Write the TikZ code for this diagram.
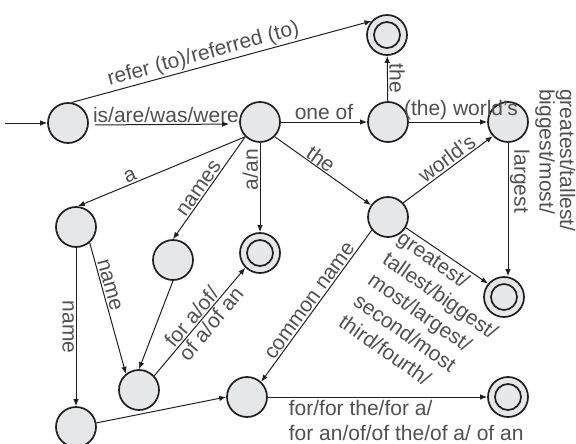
\documentclass[tikz,border=0pt]{standalone}
\usepackage{fontspec}
\setmainfont{Liberation Sans}
\usetikzlibrary{arrows.meta}
\definecolor{nodefill}{HTML}{E6E7E8}
\definecolor{linecol}{HTML}{231F20}
\definecolor{txtcol}{HTML}{505050}
\begin{document}
\begin{tikzpicture}[x=1pt,y=-1pt,
  state/.style={circle, draw=linecol, line width=1.7pt, fill=nodefill, minimum size=40pt, inner sep=0pt},
  ring/.style={draw=linecol, line width=1.7pt},
  edge/.style={draw=linecol, line width=1pt, -{Latex[length=7pt,width=5.5pt]}},
  lbl/.style={text=txtcol, font=\fontsize{21pt}{25.5pt}\selectfont, inner sep=1.5pt},
]
\useasboundingbox (0,0) rectangle (576,444);
% states
\node[state] (S) at (68,123) {};
\node[state] (A) at (260,122) {};
\node[state] (B) at (388,122) {};
\node[state] (C) at (508,122) {};
\node[state] (F1) at (387,35) {};
\node[state] (D) at (76,227) {};
\node[state] (E) at (173,260) {};
\node[state] (F2) at (260,253) {};
\node[state] (G) at (139,390) {};
\node[state] (H) at (76,427) {};
\node[state] (I) at (247,397) {};
\node[state] (J) at (388,217) {};
\node[state] (F3) at (504,297) {};
\node[state] (F4) at (508,397) {};
\foreach \f in {F1,F2,F3,F4} {\draw[ring] (\f.center) circle[radius=13pt];}
\coordinate (start) at (5,123);
% edges
\draw[edge] (start) -- (S);
\draw[edge] (S.80) -- node[lbl, sloped, above, pos=0.45]{refer (to)/referred (to)} (F1.138);
\draw[edge, shorten <=6pt, shorten >=10pt] ([yshift=-2pt]S.east) -- node[lbl, above, xshift=2pt, inner sep=1pt]{is/are/was/were} ([yshift=-2pt]A.west);
\draw[edge] (A) -- node[lbl, above]{one of} (B);
\draw[edge] (B) -- node[lbl, rotate=-90, anchor=south, midway]{the} (F1);
\draw[edge] (B) -- node[lbl, above, xshift=13pt]{(the) world's} (C);
\draw[edge] (A.225) -- node[lbl, sloped, above, pos=0.67]{a} (D.85);
\draw[edge] (A.225) -- node[lbl, sloped, above, pos=0.55]{names} (E.north);
\draw[edge] (A) -- node[lbl, rotate=90, anchor=south, pos=0.3]{a/an} (F2);
\draw[edge] (A.-45) -- node[lbl, sloped, above, pos=0.43, inner sep=0.5pt]{the} (J.145);
\draw[edge] (J.43) -- node[lbl, sloped, above, pos=0.55]{world's} (C.223);
\draw[edge] (J.-31) -- (F3.140);
\draw[edge] (C.south) -- node[lbl, rotate=-90, anchor=south, pos=0.29]{largest} (C.south |- F3.north);
\draw[edge] (J.219) -- node[lbl, sloped, above, midway]{common name} (I.47);
\draw[edge] (D) -- node[lbl, rotate=-90, anchor=north]{name} (H);
\draw[edge] (D.-49) -- node[lbl, sloped, above, pos=0.34]{name} (G.129);
\draw[edge] (E.south) -- (G.north);
\draw[edge] (G.43) -- node[lbl, sloped, above, pos=0.49]{for a/of/} node[lbl, sloped, below, pos=0.54]{of a/of an} (F2.225);
\draw[edge] (H) -- (I.west);
\draw[edge] (I) -- node[lbl, at start, anchor=north west, align=left, xshift=19pt, yshift=-1pt, font=\fontsize{21pt}{25pt}\selectfont]{for/for the/for a/\\for an/of/of the/of a/ of an} (F4);
% multi-line labels
\node[lbl, rotate=-35, align=left] (L1) at (426,316) {greatest/\\tallest/biggest/\\most/largest/\\second/most\\third/fourth/};
\node[lbl, rotate=-90, align=left, anchor=north west, inner sep=0pt, font=\fontsize{21pt}{16pt}\selectfont] (L2) at (575.5,89) {greatest/tallest/\\biggest/most/};
\end{tikzpicture}
\end{document}
